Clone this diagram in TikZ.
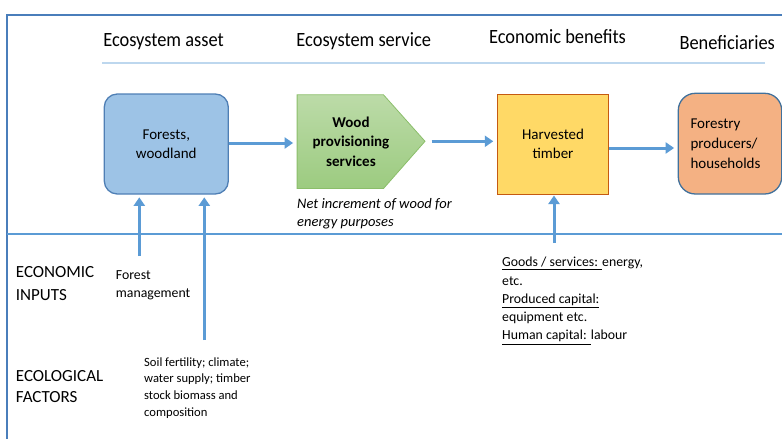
\documentclass[tikz,border=0pt]{standalone}
\usepackage{fontspec}
\usepackage{graphicx}
\setmainfont{Carlito}
\usetikzlibrary{arrows.meta}

\definecolor{framecol}{HTML}{4A7EBB}
\definecolor{flowblue}{HTML}{5B9BD5}
\definecolor{rulelight}{HTML}{BDD7EE}
\definecolor{assetfill}{HTML}{9DC3E6}
\definecolor{assetline}{HTML}{4F7FB5}
\definecolor{greentop}{HTML}{BCDBA8}
\definecolor{greenbot}{HTML}{9CCB80}
\definecolor{greenline}{HTML}{8BBE6A}
\definecolor{yellowfill}{HTML}{FFD966}
\definecolor{yellowline}{HTML}{C55A11}
\definecolor{orangefill}{HTML}{F4B183}
\definecolor{orangeline}{HTML}{41719C}

% stacked lines with a fixed baseline distance; the box baseline is the first line
\newcommand\tstack[2]{\vtop{\baselineskip=#1\relax\lineskiplimit=-\maxdimen
  \halign{##\hfil\cr#2\crcr}}}
% underlined run of text
\newcommand\ulseg[1]{\vtop{\hbox{#1}\kern1.5pt\hrule height 0.55pt}}
% column heading, set a little taller than wide
\newcommand\hdrtext[1]{\scalebox{1}[1.1]{#1}}

\tikzset{
  hdr/.style={anchor=base, inner sep=0pt, font=\fontsize{18.4}{22}\selectfont},
  boxtext/.style={align=center, font=\fontsize{15}{19}\selectfont},
  assetbox/.style={boxtext, draw=assetline, line width=1.3pt, fill=assetfill,
    rounded corners=13pt, minimum width=124pt, minimum height=100pt, inner sep=0pt},
  benefitbox/.style={boxtext, draw=yellowline, line width=1pt, fill=yellowfill,
    minimum width=111.4pt, minimum height=100pt, inner sep=0pt},
  userbox/.style={draw=orangeline, line width=1.3pt, fill=orangefill,
    rounded corners=17pt, minimum width=103.4pt, minimum height=100.7pt,
    text width=79pt, inner xsep=12.2pt, inner ysep=0pt, align=left,
    font=\fontsize{15}{20}\selectfont},
  flow/.style={draw=flowblue, line width=3pt,
    -{Triangle[length=8.5pt,width=11pt]}},
  freetext/.style={anchor=base west, inner sep=0pt},
}

\begin{document}
\begin{tikzpicture}[x=1pt, y=-1pt]
\useasboundingbox (0,0) rectangle (782,439);

% frame
\draw[framecol, line width=1.5pt] (7,445) -- (7,15) -- (790,15);

% column headings
\node[hdr] (h1) at (163.5,46.3) {\hdrtext{Ecosystem asset}};
\node[hdr] (h2) at (363.7,46.3) {\hdrtext{Ecosystem service}};
\node[hdr] (h3) at (557.5,43.5) {\hdrtext{Economic benefits}};
\node[hdr] (h4) at (727.2,49.3) {\hdrtext{Beneficiaries}};
\draw[rulelight, line width=2pt] (102,63.3) -- (765,63.3);

% divider between the chain and the inputs
\draw[flowblue, line width=1.5pt] (7,234) -- (790,234);

% ecosystem asset
\node[assetbox] (asset) at (166.3,144) {Forests,\\woodland};

% ecosystem service (pentagon arrow shape)
\node[minimum width=86pt, minimum height=93.3pt, inner sep=0pt] (service) at (340.3,141.65) {};
\coordinate (tip) at (425,141.3);
\shade[top color=greentop, bottom color=greenbot, draw=greenline, line width=0.8pt]
  (service.north west) -- (service.north east) -- (tip) -- (service.south east)
  -- (service.south west) -- cycle;
\node[boxtext, font=\fontsize{15}{19.7}\selectfont\bfseries] (servicelabel) at (351,141.5)
  {Wood\\provisioning\\services};
\node[freetext, font=\fontsize{14.5}{18.4}\selectfont\itshape] (servicenote) at (297,208.3)
  {\tstack{18.4pt}{Net increment of wood for\cr energy purposes}};

% economic benefit
\node[benefitbox] (harvest) at (553,144) {Harvested\\timber};

% beneficiaries
\node[userbox] (users) at (730,143.65) {Forestry\\producers/\\households};

% flows along the chain
\draw[flow, shorten >=4pt] ([yshift=1pt]asset.east) -- ([yshift=1pt]asset.east -| service.west);
\draw[flow, shorten <=6.5pt, shorten >=3.5pt] (tip) -- (tip -| harvest.west);
\draw[flow, shorten >=3.5pt] ([yshift=-4pt]harvest.east) -- ([yshift=-4pt]harvest.east -| users.west);

% inputs feeding the chain
\coordinate (mgmt) at (139.3,256);
\coordinate (ecol) at (204.3,340);
\coordinate (goods) at (554,243);
\draw[flow, shorten >=2.7pt] (mgmt) -- (mgmt |- asset.south);
\draw[flow, shorten >=2.7pt] (ecol) -- (ecol |- asset.south);
\draw[flow, shorten >=1pt] (goods) -- (goods |- harvest.south);

% row labels
\node[freetext, font=\fontsize{17}{21}\selectfont] (econlabel) at (15.7,277.7)
  {\tstack{22.3pt}{ECONOMIC\cr INPUTS}};
\node[freetext, font=\fontsize{17}{21}\selectfont] (ecollabel) at (15.7,381)
  {\tstack{21.7pt}{ECOLOGICAL\cr FACTORS}};

% input descriptions
\node[freetext, font=\fontsize{13.8}{18}\selectfont] (mgmttext) at (115.7,279)
  {\tstack{18.7pt}{Forest\cr management}};
\node[freetext, font=\fontsize{12.6}{16}\selectfont] (ecoltext) at (144,366)
  {\tstack{16.7pt}{Soil fertility; climate;\cr water supply; timber\cr stock biomass and\cr composition}};
\node[freetext, font=\fontsize{13.8}{18}\selectfont] (goodstext) at (502,266.7)
  {\tstack{18.3pt}{\ulseg{Goods / services: }energy,\cr etc.\cr \ulseg{Produced capital:}\cr
   equipment etc.\cr \ulseg{Human capital: }labour}};

\end{tikzpicture}
\end{document}
